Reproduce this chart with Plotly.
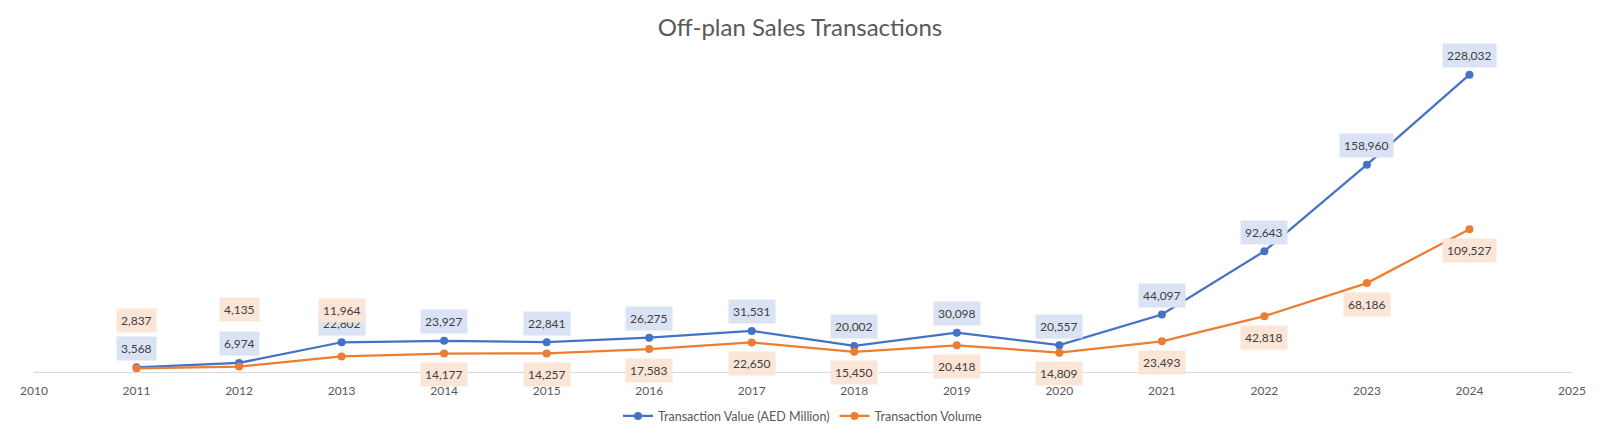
import plotly.graph_objects as go

years = [2011, 2012, 2013, 2014, 2015, 2016, 2017, 2018, 2019, 2020, 2021, 2022, 2023, 2024]
value_aed_mn = [3568, 6974, 22802, 23927, 22841, 26275, 31531, 20002, 30098, 20557, 44097, 92643, 158960, 228032]
volume = [2837, 4135, 11964, 14177, 14257, 17583, 22650, 15450, 20418, 14809, 23493, 42818, 68186, 109527]
tick_years = list(range(2010, 2026))

BLUE = "#4472C4"
ORANGE = "#ED7D31"
FONT = "Lato"

# early volume labels sit above the line in the original (px shift)
vol_shift_above = {2011: 48, 2012: 57, 2013: 46}

fig = go.Figure()
fig.add_trace(go.Scatter(x=years, y=value_aed_mn, name="Transaction Value (AED Million)",
                         mode="lines+markers", line=dict(color=BLUE, width=2.25),
                         marker=dict(size=8, color=BLUE)))
fig.add_trace(go.Scatter(x=years, y=volume, name="Transaction Volume",
                         mode="lines+markers", line=dict(color=ORANGE, width=2.25),
                         marker=dict(size=8, color=ORANGE)))

anns = []
for x, v in zip(years, value_aed_mn):
    anns.append(dict(x=x, y=v, text=f"{v:,}", showarrow=False, yshift=19,
                     bgcolor="#DAE3F3", borderpad=4,
                     font=dict(family=FONT, size=12, color="#404040")))
for x, v in zip(years, volume):
    anns.append(dict(x=x, y=v, text=f"{v:,}", showarrow=False,
                     yshift=vol_shift_above.get(x, -21),
                     bgcolor="#FBE5D6", borderpad=4,
                     font=dict(family=FONT, size=12, color="#404040")))

# page body has an 8px margin, so the margins are offset for it
fig.update_layout(
    width=1600, height=438,
    title=dict(text="Off-plan Sales Transactions", x=0.495, xanchor="center",
               y=1 - 20 / 438, yanchor="middle",
               font=dict(family=FONT, size=24, color="#595959")),
    font=dict(family=FONT, size=12, color="#595959"),
    paper_bgcolor="white", plot_bgcolor="white",
    margin=dict(l=21, r=36, t=38, b=73.5, pad=0),
    annotations=anns,
    showlegend=True,
    legend=dict(orientation="h", x=0.500, xanchor="center", y=-0.136, yanchor="middle",
                font=dict(family=FONT, size=12.5, color="#595959"),
                itemwidth=30),
)
fig.update_xaxes(range=[2010, 2025], tickvals=tick_years, ticktext=[str(t) for t in tick_years],
                 showgrid=False, zeroline=False, showline=True, linecolor="#D9D9D9",
                 linewidth=1, ticks="", ticklabelstandoff=8)
fig.update_yaxes(range=[0, 250000], visible=False, showgrid=False, zeroline=False)

fig.write_html("out.html")
